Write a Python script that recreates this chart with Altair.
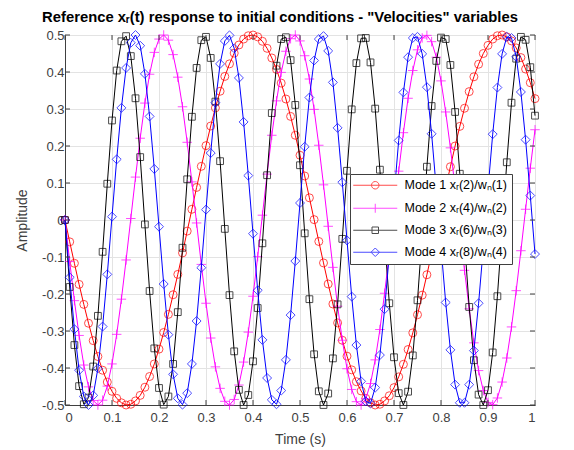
import altair as alt
import pandas as pd

# ---------------- data ----------------
t = [round(i * 0.01, 2) for i in range(101)]

mode1 = [0, -0.059, -0.117, -0.174, -0.228, -0.279, -0.326, -0.369, -0.406, -0.438,
         -0.463, -0.482, -0.494, -0.500, -0.498, -0.489, -0.474, -0.452, -0.423, -0.389,
         -0.349, -0.304, -0.255, -0.202, -0.147, -0.089, -0.030, 0.029, 0.088, 0.145,
         0.201, 0.254, 0.303, 0.348, 0.388, 0.422, 0.451, 0.473, 0.489, 0.498,
         0.500, 0.495, 0.483, 0.464, 0.438, 0.407, 0.370, 0.327, 0.280, 0.229,
         0.175, 0.119, 0.060, 0.001, -0.058, -0.116, -0.173, -0.227, -0.278, -0.325,
         -0.368, -0.405, -0.437, -0.462, -0.482, -0.494, -0.500, -0.498, -0.489, -0.475,
         -0.453, -0.424, -0.390, -0.350, -0.305, -0.256, -0.203, -0.148, -0.090, -0.031,
         0.028, 0.087, 0.144, 0.200, 0.253, 0.302, 0.347, 0.387, 0.421, 0.450,
         0.472, 0.489, 0.498, 0.500, 0.495, 0.484, 0.465, 0.439, 0.408, 0.371,
         0.328]

mode2 = [0, -0.112, -0.218, -0.312, -0.392, -0.451, -0.488, -0.500, -0.487, -0.449,
         -0.389, -0.309, -0.214, -0.108, 0.004, 0.116, 0.221, 0.316, 0.394, 0.453,
         0.489, 0.500, 0.486, 0.447, 0.386, 0.306, 0.210, 0.103, -0.008, -0.120,
         -0.225, -0.319, -0.397, -0.455, -0.490, -0.500, -0.485, -0.446, -0.384, -0.303,
         -0.206, -0.099, 0.013, 0.124, 0.229, 0.322, 0.399, 0.456, 0.490, 0.500,
         0.484, 0.444, 0.381, 0.299, 0.202, 0.095, -0.017, -0.128, -0.233, -0.325,
         -0.402, -0.458, -0.491, -0.500, -0.483, -0.442, -0.378, -0.296, -0.198, -0.091,
         0.021, 0.132, 0.236, 0.329, 0.404, 0.460, 0.492, 0.499, 0.482, 0.440,
         0.376, 0.292, 0.195, 0.087, -0.025, -0.136, -0.240, -0.332, -0.407, -0.461,
         -0.493, -0.499, -0.481, -0.438, -0.373, -0.289, -0.191, -0.083, 0.029, 0.140,
         0.244]

mode3 = [0, -0.181, -0.338, -0.449, -0.498, -0.480, -0.396, -0.259, -0.086, 0.098,
         0.269, 0.404, 0.483, 0.497, 0.443, 0.329, 0.170, -0.012, -0.192, -0.347,
         -0.454, -0.499, -0.477, -0.389, -0.249, -0.075, 0.110, 0.279, 0.411, 0.486,
         0.495, 0.438, 0.320, 0.159, -0.024, -0.203, -0.355, -0.459, -0.500, -0.473,
         -0.382, -0.238, -0.063, 0.121, 0.289, 0.417, 0.489, 0.494, 0.432, 0.311,
         0.148, -0.036, -0.214, -0.363, -0.463, -0.500, -0.469, -0.374, -0.228, -0.051,
         0.133, 0.299, 0.424, 0.491, 0.492, 0.426, 0.301, 0.136, -0.048, -0.225,
         -0.371, -0.468, -0.500, -0.464, -0.366, -0.217, -0.039, 0.144, 0.308, 0.430,
         0.493, 0.489, 0.419, 0.292, 0.125, -0.059, -0.235, -0.379, -0.472, -0.500,
         -0.460, -0.358, -0.206, -0.027, 0.156, 0.317, 0.436, 0.495, 0.487, 0.413,
         0.282]

mode4 = [0, -0.155, -0.295, -0.406, -0.477, -0.500, -0.474, -0.401, -0.288, -0.147,
         0.009, 0.164, 0.303, 0.411, 0.479, 0.500, 0.471, 0.395, 0.280, 0.138,
         -0.018, -0.173, -0.310, -0.417, -0.482, -0.499, -0.468, -0.389, -0.273, -0.129,
         0.028, 0.181, 0.317, 0.422, 0.484, 0.499, 0.464, 0.384, 0.265, 0.120,
         -0.037, -0.190, -0.324, -0.427, -0.486, -0.498, -0.461, -0.378, -0.257, -0.111,
         0.046, 0.198, 0.331, 0.431, 0.489, 0.497, 0.457, 0.372, 0.249, 0.102,
         -0.055, -0.207, -0.338, -0.436, -0.490, -0.496, -0.453, -0.365, -0.241, -0.093,
         0.064, 0.215, 0.345, 0.440, 0.492, 0.495, 0.449, 0.359, 0.233, 0.084,
         -0.073, -0.223, -0.351, -0.445, -0.494, -0.494, -0.445, -0.353, -0.225, -0.075,
         0.083, 0.232, 0.358, 0.449, 0.495, 0.492, 0.441, 0.346, 0.217, 0.066,
         -0.092]

names = ["Mode 1 xᵣ(2)/wₙ(1)", "Mode 2 xᵣ(4)/wₙ(2)",
         "Mode 3 xᵣ(6)/wₙ(3)", "Mode 4 xᵣ(8)/wₙ(4)"]
colors = ["#ff0000", "#ff00ff", "#000000", "#0000ff"]
series_values = [mode1, mode2, mode3, mode4]

x_ticks = [0, 0.1, 0.2, 0.3, 0.4, 0.5, 0.6, 0.7, 0.8, 0.9, 1]
y_ticks = [-0.5, -0.4, -0.3, -0.2, -0.1, 0, 0.1, 0.2, 0.3, 0.4, 0.5]

title_text = 'Reference xᵣ(t) response to initial conditions - "Velocities" variables'

# ---------------- table ----------------
rows = []
for name, vals in zip(names, series_values):
    for ti, vi in zip(t, vals):
        rows.append({"t": ti, "v": vi, "series": name})
df = pd.DataFrame(rows)

W, H = 470, 370
FONT = "Liberation Sans"
AX = "#404040"

xs = alt.Scale(domain=[0, 1], nice=False, zero=False)
ys = alt.Scale(domain=[-0.5, 0.5], nice=False, zero=False)
lab = "replace(format(datum.value, '~g'), '\u2212', '-')"

x_enc = alt.X("t:Q", scale=xs, axis=alt.Axis(values=x_ticks, title="Time (s)", labelExpr=lab,
                                              ticks=False, labelPadding=6, titlePadding=8,
                                              labelOverlap=False))
y_enc = alt.Y("v:Q", scale=ys, axis=alt.Axis(values=y_ticks, title="Amplitude", labelExpr=lab,
                                              ticks=False, labelPadding=1, titlePadding=12,
                                              labelOverlap=False))

leg = alt.Legend(orient="none", legendX=285, legendY=139, title=None, symbolSize=100,
                 symbolOffset=14, labelOffset=23, padding=5, rowPadding=9,
                 strokeColor=AX, fillColor="white", labelFont=FONT, labelFontSize=12.5,
                 labelColor="#000000", symbolStrokeWidth=1, labelLimit=300)
color_enc = alt.Color("series:N", scale=alt.Scale(domain=names, range=colors), legend=leg)

markers = [
    dict(shape="circle", size=64),
    dict(shape="M-1,0H1M0,-1V1", size=90),
    dict(shape="square", size=46),
    dict(shape="diamond", size=80),
]

# legend symbols: line with the marker in the middle
legend_paths = [
    "M-4.4,0H4.4M-0.75,0A0.75,0.75,0,1,0,0.75,0A0.75,0.75,0,1,0,-0.75,0",
    "M-4.4,0H4.4M0,-0.9V0.9",
    "M-4.4,0H4.4M-0.65,-0.65H0.65V0.65H-0.65Z",
    "M-4.4,0H4.4M0,-0.85L0.85,0L0,0.85L-0.85,0Z",
]

base = alt.Chart(df)
layers = []
for name, mk in zip(names, markers):
    sub = base.transform_filter(alt.datum.series == name)
    layers.append(sub.mark_line(strokeWidth=1).encode(x=x_enc, y=y_enc, color=color_enc))
    layers.append(sub.mark_point(filled=False, strokeWidth=1, shape=mk["shape"], size=mk["size"])
                  .encode(x=x_enc, y=y_enc, color=color_enc))

legend_layer = base.transform_filter("false").mark_point(filled=False, strokeWidth=1).encode(
    x=x_enc, y=y_enc,
    color=color_enc,
    shape=alt.Shape("series:N", scale=alt.Scale(domain=names, range=legend_paths), legend=leg),
)

# inward ticks on all four sides
xt = pd.DataFrame({"t": x_ticks})
yt = pd.DataFrame({"v": y_ticks})
ticks = [
    alt.Chart(xt).mark_rule(color=AX, strokeWidth=1).encode(x=x_enc, y=alt.value(H), y2=alt.value(H - 5)),
    alt.Chart(xt).mark_rule(color=AX, strokeWidth=1).encode(x=x_enc, y=alt.value(0), y2=alt.value(5)),
    alt.Chart(yt).mark_rule(color=AX, strokeWidth=1).encode(y=y_enc, x=alt.value(0), x2=alt.value(5)),
    alt.Chart(yt).mark_rule(color=AX, strokeWidth=1).encode(y=y_enc, x=alt.value(W), x2=alt.value(W - 5)),
]

chart = alt.layer(*layers, *ticks, legend_layer).properties(
    width=W, height=H,
    title=alt.TitleParams(title_text, font=FONT, fontSize=14.8, fontWeight="bold", color="#000000",
                          anchor="middle", offset=3, dx=-20),
    padding={"left": 7, "top": 2, "right": 5, "bottom": 5},
).configure_view(stroke=AX, strokeWidth=1).configure_axis(
    grid=True, gridColor="#e3e3e3", gridWidth=1, domainColor=AX, domainWidth=1,
    labelFont=FONT, labelFontSize=13, labelColor=AX, titleFont=FONT, titleFontSize=14,
    titleFontWeight="normal", titleColor=AX, labelOverlap=False,
)

chart.save("out.html", embed_options={"renderer": "svg", "actions": False})
